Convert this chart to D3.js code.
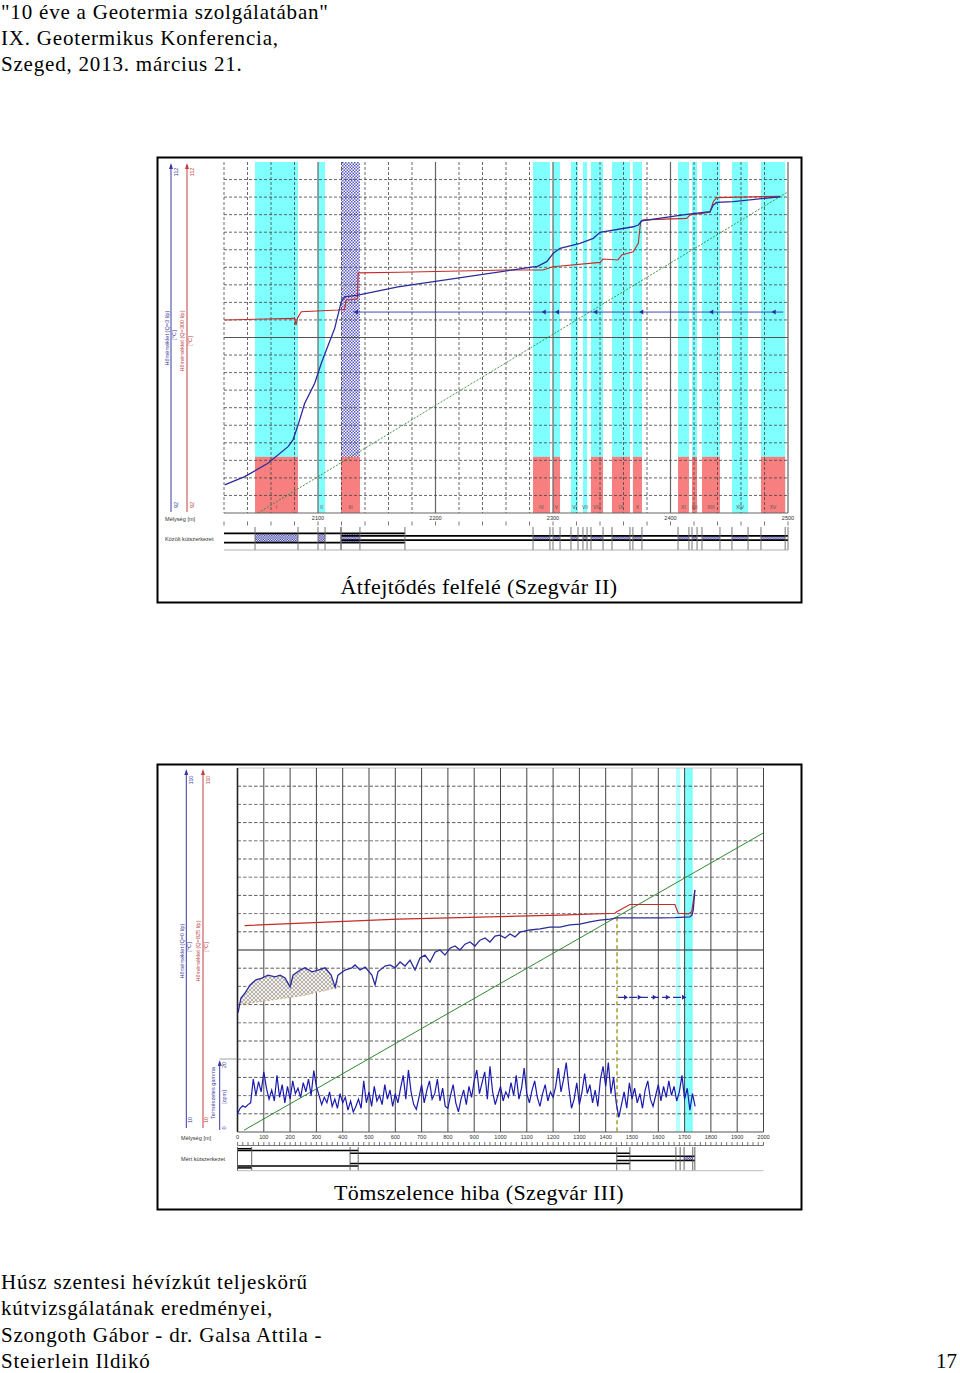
<!DOCTYPE html>
<html lang="hu">
<head>
<meta charset="utf-8">
<title>Szegvár kútvizsgálat</title>
<script src="https://d3js.org/d3.v7.min.js"></script>
<style>
  body { margin: 0; background: #fff; }
  text { font-family: "Liberation Sans", Arial, sans-serif; }
  .serif { font-family: "Liberation Serif", "Times New Roman", serif; fill: #000; }
  .tiny { font-size: 5.6px; fill: #333; }
</style>
</head>
<body>
<svg id="page" width="960" height="1373"></svg>
<script>

// ---------- PAGE TEXT ----------
const headLines = ['"10 éve a Geotermia szolgálatában"', 'IX. Geotermikus Konferencia,', 'Szeged, 2013. március 21.'];
const footLines = ['Húsz szentesi hévízkút teljeskörű', 'kútvizsgálatának eredményei,', 'Szongoth Gábor - dr. Galsa Attila -', 'Steierlein Ildikó'];
const pageNumber = '17';
const captions = ['Átfejtődés felfelé (Szegvár II)', 'Tömszelence hiba (Szegvár III)'];

// ---------- UPPER CHART: Szegvár II (depth m / temperature °C) ----------
const topDepthTicks = [2100, 2200, 2300, 2400, 2500];
const topTempLabels = ['92', '112'];
const topZoneNames = ['I','II','III','IV','V','VI','VII','VIII','IX','X','XI','XII','XIII','XIV','XV'];
const topZoneFrom = [2046.4, 2100, 2119.6, 2283, 2300, 2315.3, 2325.5, 2332.3, 2350.2, 2368, 2406.4, 2418.3, 2426.8, 2452.3, 2477];
const topZoneTo   = [2083, 2106, 2135.7, 2297.4, 2306, 2321.3, 2329, 2342.6, 2365.5, 2375.7, 2415.7, 2422.6, 2442.1, 2466, 2497.6];
const topZoneInflow = [1, 0, 1, 1, 1, 0, 0, 1, 1, 1, 1, 1, 1, 0, 1];
const topZoneClosed = 'III';

// Q = 3 l/p
const topQ3Depth = [2020.6, 2037.6, 2057.4, 2074.5, 2078.7, 2083.0, 2088.7, 2097.2, 2102.8, 2107.1, 2114.2, 2119.8, 2122.7, 2134.0, 2168.1, 2283, 2286.1, 2294.6, 2300.3, 2306.0, 2323.0, 2334.3, 2340.0, 2368.3, 2372.6, 2375.5, 2413.8, 2433.6, 2436.4, 2439.3, 2453.4, 2493.2];
const topQ3Temp  = [93.60, 94.07, 94.83, 95.78, 96.16, 97.01, 98.25, 99.39, 100.53, 101.29, 102.52, 104.04, 104.32, 104.42, 104.89, 106.02, 106.03, 106.32, 106.80, 107.08, 107.37, 107.65, 107.99, 108.31, 108.41, 108.64, 109.02, 109.17, 109.55, 109.70, 109.74, 110.02];
// Q = 300 l/p
const topQ300Depth = [2020.6, 2080.2, 2081.3, 2082.6, 2085.8, 2117.0, 2122.5, 2124, 2128, 2133.5, 2134.2, 2169.8, 2260.6, 2291.5, 2300, 2340, 2342.6, 2355.3, 2358.5, 2368.3, 2372.6, 2374.6, 2376.8, 2413.8, 2416.6, 2433.6, 2436.4, 2439.3, 2493.2];
const topQ300Temp  = [103.00, 103.09, 102.71, 103.11, 103.47, 103.57, 103.60, 104.15, 104.15, 104.20, 105.68, 105.72, 105.85, 105.85, 106.03, 106.28, 106.47, 106.42, 106.70, 106.89, 107.37, 108.60, 108.70, 108.79, 108.98, 109.13, 109.74, 109.97, 110.05];
// undisturbed gradient
const topGradDepth = [2049, 2500];
const topGradTemp = [92, 110.3];
// flow direction arrows (upward flow)
const topFlowDepths = [2130.6, 2290.4, 2301.7, 2334.3, 2373.4, 2433, 2486.1];
const topFlowRange = [2130, 2496];
// well structure: pipes [from, to, diameter inch]
const topPipeFrom = [2020, 2119.6];
const topPipeTo = [2174, 2500];
const topPipeDiam = [9.625, 4.5];

// ---------- LOWER CHART: Szegvár III ----------
const botDepthTicks = [0, 100, 200, 300, 400, 500, 600, 700, 800, 900, 1000, 1100, 1200, 1300, 1400, 1500, 1600, 1700, 1800, 1900, 2000];
const botTempLabels = ['10', '110'];
const botGammaLabels = ['0', '20'];
const botZoneFrom = [1667, 1698];
const botZoneTo = [1683, 1731];

// Q = 0 l/p
const botQ0Depth = [2, 13, 29, 48, 70, 93, 116, 143, 162, 181, 200, 211, 238, 257, 283, 306, 333, 356, 371, 382, 409, 435, 447, 466, 485, 511, 523, 534, 561, 580, 599, 618, 637, 656, 675, 694, 713, 732, 751, 770, 789, 808, 827, 846, 865, 884, 903, 922, 941, 960, 979, 998, 1017, 1036, 1055, 1074, 1112, 1150, 1188, 1226, 1264, 1302, 1340, 1378, 1416, 1443, 1492, 1606, 1663, 1720, 1728, 1733, 1739];
const botQ0Temp  = [42.7, 46.8, 48.2, 50.4, 51.8, 52.3, 53.1, 52.6, 53.1, 52.3, 49.8, 53.1, 54.5, 55.1, 54.0, 54.5, 55.1, 53.1, 49.8, 53.1, 54.5, 55.1, 55.9, 54.5, 55.3, 53.1, 50.4, 54.0, 55.6, 55.9, 55.1, 56.7, 55.6, 57.2, 54.5, 57.8, 58.6, 56.7, 59.4, 60.0, 58.6, 60.5, 61.1, 60.0, 61.6, 62.2, 61.1, 62.7, 63.3, 62.2, 63.8, 64.1, 63.3, 64.4, 63.6, 64.9, 65.5, 65.8, 66.3, 66.3, 66.9, 67.1, 67.7, 68.2, 68.5, 68.8, 68.8, 68.8, 68.9, 69.1, 69.6, 71.0, 76.5];
// washed-out section reference line (lower envelope)
const botBaseDepth = [10, 250, 400];
const botBaseTemp = [45, 47.5, 50];
// Q = 825 l/p
const botQ825Depth = [27, 610, 1226, 1435, 1442, 1492, 1663, 1676, 1714, 1727, 1733, 1739];
const botQ825Temp  = [66.7, 68.5, 69.6, 70.1, 70.5, 72.5, 72.5, 70.1, 69.9, 70.5, 73.3, 76.5];
// undisturbed gradient
const botGradDepth = [25, 1998];
const botGradTemp = [10.5, 92.1];
// packer (tömszelence) depth
const botPackerDepth = 1443;
// flow arrows (downward flow)
const botFlowDepths = [1485, 1537, 1594, 1644, 1705];
const botFlowRange = [1447, 1705];
// natural gamma, sampled every 10 m from 0 m
const botGammaStep = 10;
const botGamma = [
  5.0, 6.5, 7.2, 6.8, 7.5, 8.0,
  14.5, 10.0, 13.8, 11.0, 16.5, 12.0, 9.0, 11.5, 8.5, 15.5,
  9.5, 13.0, 8.0, 12.5, 9.0, 14.0, 10.5, 12.0, 9.5, 13.5, 11.0, 14.5, 10.0, 16.8, 12.5,
  10.0, 7.5, 9.5, 8.0, 11.0, 7.0, 9.0, 6.5, 10.5, 8.0, 9.5, 6.0, 8.5, 5.5, 7.0,
  9.0, 6.5, 14.0, 8.0, 11.0, 7.0, 12.5, 8.5, 10.0, 7.5, 13.0, 9.0, 11.5, 7.0, 10.5,
  8.0, 12.0, 15.5, 9.0, 17.0, 11.0, 7.5, 6.2, 9.5, 13.0, 8.0, 11.5, 14.0, 9.0, 10.5,
  14.5, 8.5, 12.0, 7.0, 6.5, 10.0, 13.0, 8.0, 5.5, 9.0, 11.5, 7.5, 12.5, 9.5, 14.0,
  17.0, 10.5, 13.5, 16.5, 9.0, 18.0, 11.0, 7.5, 10.0, 12.5, 8.5, 11.0, 9.5, 13.5, 10.0,
  15.5, 9.0, 12.0, 17.5, 10.5, 8.0, 11.5, 14.0, 9.5, 7.0, 10.5, 13.0, 8.5, 11.0, 9.5,
  12.5, 17.5, 11.0, 14.5, 19.0, 12.0, 6.5, 9.0, 13.5, 7.5, 11.0, 16.0, 10.5, 13.0, 8.0,
  11.5, 7.0, 14.5, 18.0, 12.5, 19.0, 10.5, 15.0, 8.0, 4.0, 7.5, 11.0, 6.5, 13.5, 9.0,
  12.0, 8.0, 10.5, 6.5, 11.5, 14.0, 9.0, 7.0, 10.0, 13.0, 8.5, 12.5, 9.5, 14.0, 10.0,
  12.5, 8.5, 11.0, 15.5, 9.0, 12.0, 6.0, 10.5, 7.0
];
// well structure
const botPipeFrom = [0, 0, 428, 1442];
const botPipeTo = [54, 459, 1492, 1739];
const botPipeDiam = [20, 16, 10.75, 4.5];


// ---------- SETUP ----------
const svg = d3.select('#page');
svg.append('rect').attr('width', 960).attr('height', 1373).attr('fill', '#fff');

const CYAN = '#80ffff', SALMON = '#f87f7f';
const BLUE = '#2b2b9c', RED = '#c42a2a', GREEN = '#2f8a2f';

const defs = svg.append('defs');
function checker(id, size, color) {
  const p = defs.append('pattern').attr('id', id).attr('patternUnits', 'userSpaceOnUse')
    .attr('width', size * 2).attr('height', size * 2);
  p.append('rect').attr('width', size * 2).attr('height', size * 2).attr('fill', '#fff');
  p.append('rect').attr('width', size).attr('height', size).attr('fill', color);
  p.append('rect').attr('x', size).attr('y', size).attr('width', size).attr('height', size).attr('fill', color);
}
checker('chk', 1.5, '#5a5ac4');
checker('scr', 1.2, '#2c2ca0');
const xh = defs.append('pattern').attr('id', 'xh').attr('patternUnits', 'userSpaceOnUse')
  .attr('width', 4).attr('height', 4);
xh.append('rect').attr('width', 4).attr('height', 4).attr('fill', '#f4efe8');
xh.append('path').attr('d', 'M0,0L4,4M4,0L0,4').attr('stroke', '#8a8a8a').attr('stroke-width', 0.6);

const pipeHalf = d3.scaleLinear().domain([0, 10]).range([0, 4.8]);

// page texts
const headY = [19, 45, 71], footY = [1289, 1315, 1342, 1368];
svg.append('g').selectAll('text').data(headLines).join('text')
  .attr('class', 'serif').attr('x', 1).attr('y', (d, i) => headY[i])
  .style('font-size', '21px').style('letter-spacing', '0.8px').text(d => d);
svg.append('g').selectAll('text').data(footLines).join('text')
  .attr('class', 'serif').attr('x', 1).attr('y', (d, i) => footY[i])
  .style('font-size', '21px').style('letter-spacing', '0.8px').text(d => d);
svg.append('text').attr('class', 'serif').attr('x', 957).attr('y', 1368)
  .attr('text-anchor', 'end').style('font-size', '21px').text(pageNumber);

// frames + captions
[[157, 157, 594], [157, 764, 1200]].forEach((f, i) => {
  svg.append('rect').attr('x', f[0] + 0.5).attr('y', f[1] + 0.5).attr('width', 644).attr('height', 445)
    .attr('fill', 'none').attr('stroke', '#000').attr('stroke-width', 2);
  svg.append('text').attr('class', 'serif').attr('x', 479).attr('y', f[2])
    .attr('text-anchor', 'middle').style('font-size', '22px').style('letter-spacing', '0.4px').text(captions[i]);
});

// helpers
function vLabel(g, x, y, txt, color, anchor) {
  g.append('text').attr('class', 'tiny')
    .attr('transform', `translate(${x},${y}) rotate(-90)`)
    .attr('text-anchor', anchor || 'middle').style('fill', color).text(txt);
}
function axisLine(g, x, y1, y2, color) {
  g.append('line').attr('x1', x).attr('x2', x).attr('y1', y1).attr('y2', y2)
    .attr('stroke', color).attr('stroke-width', 1);
  g.append('path').attr('d', `M${x},${y1 - 2}L${x - 2},${y1 + 4}L${x + 2},${y1 + 4}Z`).attr('fill', color);
}
function arrowHead(g, x, y, dir, color) {
  g.append('path').attr('d', `M${x},${y}L${x - 4 * dir},${y - 2.5}L${x - 4 * dir},${y + 2.5}Z`)
    .attr('fill', color);
}

// ================= UPPER CHART =================
const xTop = d3.scaleLinear().domain([2020, 2500]).range([224, 788]);
const yTop = d3.scaleLinear().domain([92, 112]).range([513, 162]);
const topZones = topZoneNames.map((n, i) => ({ name: n, from: topZoneFrom[i], to: topZoneTo[i], inflow: topZoneInflow[i] }));
const gT = svg.append('g');

// zones
gT.append('g').selectAll('rect').data(topZones).join('rect')
  .attr('x', d => xTop(d.from)).attr('width', d => xTop(d.to) - xTop(d.from))
  .attr('y', yTop(112)).attr('height', yTop(92) - yTop(112))
  .attr('fill', d => d.name === topZoneClosed ? 'url(#chk)' : CYAN);
gT.append('g').selectAll('rect').data(topZones.filter(d => d.inflow)).join('rect')
  .attr('x', d => xTop(d.from)).attr('width', d => xTop(d.to) - xTop(d.from))
  .attr('y', yTop(95.2)).attr('height', yTop(92) - yTop(95.2))
  .attr('fill', SALMON);

// grid
gT.append('g').selectAll('line').data(d3.range(2020, 2501, 20)).join('line')
  .attr('x1', d => xTop(d)).attr('x2', d => xTop(d)).attr('y1', yTop(112)).attr('y2', yTop(92))
  .attr('stroke', d => d % 100 === 0 ? '#666' : '#444').attr('stroke-width', d => d % 100 === 0 ? 1.2 : 0.8)
  .attr('stroke-dasharray', d => d % 100 === 0 ? null : '3,2');
gT.append('g').selectAll('line').data(d3.range(93, 112, 1)).join('line')
  .attr('x1', xTop(2020)).attr('x2', xTop(2500)).attr('y1', d => yTop(d)).attr('y2', d => yTop(d))
  .attr('stroke', d => d === 102 ? '#555' : '#444').attr('stroke-width', d => d === 102 ? 1.2 : 0.8)
  .attr('stroke-dasharray', d => d === 102 ? null : '3,2');
gT.append('line').attr('x1', xTop(2020)).attr('x2', xTop(2500)).attr('y1', yTop(92)).attr('y2', yTop(92))
  .attr('stroke', '#666').attr('stroke-width', 1.2);

// zone labels
gT.append('g').selectAll('text').data(topZones).join('text')
  .attr('class', 'tiny').attr('x', d => xTop((d.from + d.to) / 2)).attr('y', 509)
  .attr('text-anchor', 'middle').style('font-size', '5px').style('fill', '#555').text(d => d.name);

// gradient line
const topLine = d3.line().x(d => xTop(d[0])).y(d => yTop(d[1]));
gT.append('path').attr('d', topLine(d3.zip(topGradDepth, topGradTemp)))
  .attr('fill', 'none').attr('stroke', GREEN).attr('stroke-width', 0.9).attr('stroke-dasharray', '2,1.5');

// flow arrows
const topArrowT = 103.45;
gT.append('line').attr('x1', xTop(topFlowRange[0])).attr('x2', xTop(topFlowRange[1]))
  .attr('y1', yTop(topArrowT)).attr('y2', yTop(topArrowT)).attr('stroke', '#3434a8').attr('stroke-width', 0.9);
topFlowDepths.forEach(d => arrowHead(gT, xTop(d), yTop(topArrowT), -1, '#2a2a9a'));

// temperature curves
gT.append('path').attr('d', topLine(d3.zip(topQ300Depth, topQ300Temp)))
  .attr('fill', 'none').attr('stroke', RED).attr('stroke-width', 1.1);
gT.append('path').attr('d', topLine(d3.zip(topQ3Depth, topQ3Temp)))
  .attr('fill', 'none').attr('stroke', BLUE).attr('stroke-width', 1.3);

// left axes
axisLine(gT, 171, 165, 512, '#3a3aa0');
axisLine(gT, 187, 165, 512, '#c04040');
vLabel(gT, 178, 172, topTempLabels[1], '#3a3aa0');
vLabel(gT, 194, 172, topTempLabels[1], '#c04040');
vLabel(gT, 178, 505, topTempLabels[0], '#3a3aa0');
vLabel(gT, 194, 505, topTempLabels[0], '#c04040');
vLabel(gT, 169, 338, 'Hőmérséklet (Q=3 l/p)', '#3a3aa0');
vLabel(gT, 176, 335, '[°C]', '#3a3aa0');
vLabel(gT, 184, 341, 'Hőmérséklet (Q=300 l/p)', '#c04040');
vLabel(gT, 192, 341, '[°C]', '#c04040');

// depth axis
gT.append('text').attr('class', 'tiny').attr('x', 165).attr('y', 521).text('Mélység [m]');
gT.append('text').attr('class', 'tiny').attr('x', 165).attr('y', 541).text('Közölt kútszerkezet');
gT.append('g').selectAll('text').data(topDepthTicks).join('text')
  .attr('class', 'tiny').attr('x', d => xTop(d)).attr('y', 520).attr('text-anchor', 'middle').text(d => d);
gT.append('g').selectAll('line').data(d3.range(2020, 2501, 20)).join('line')
  .attr('x1', d => xTop(d)).attr('x2', d => xTop(d)).attr('y1', 521.5).attr('y2', 525.5)
  .attr('stroke', '#555').attr('stroke-width', 0.8);

// well structure
const topPipeY = 538;
const topPipes = topPipeFrom.map((f, i) => ({ from: f, to: topPipeTo[i], half: pipeHalf(topPipeDiam[i]) }));
topZones.forEach(z => {
  const m = (z.from + z.to) / 2;
  const half = d3.max(topPipes.filter(p => p.from <= m && p.to >= m), p => p.half);
  gT.append('rect').attr('x', xTop(z.from)).attr('width', xTop(z.to) - xTop(z.from))
    .attr('y', topPipeY - half).attr('height', half * 2).attr('fill', 'url(#scr)');
});
topPipes.forEach(p => {
  [-1, 1].forEach(s => gT.append('line')
    .attr('x1', xTop(p.from)).attr('x2', xTop(p.to)).attr('y1', topPipeY + s * p.half).attr('y2', topPipeY + s * p.half)
    .attr('stroke', '#000').attr('stroke-width', 1.6));
});
const topDividers = topZoneFrom.concat(topZoneTo, topPipeFrom.slice(1), topPipeTo);
gT.append('g').selectAll('line').data(topDividers).join('line')
  .attr('x1', d => xTop(d)).attr('x2', d => xTop(d)).attr('y1', 527).attr('y2', 550)
  .attr('stroke', '#666').attr('stroke-width', 0.9);
gT.append('line').attr('x1', xTop(2020)).attr('x2', xTop(2500)).attr('y1', 550).attr('y2', 550)
  .attr('stroke', '#999').attr('stroke-width', 0.8);

// ================= LOWER CHART =================
const xBot = d3.scaleLinear().domain([0, 2000]).range([237.5, 763.5]);
const yBot = d3.scaleLinear().domain([10, 110]).range([1132, 768]);
const yGam = d3.scaleLinear().domain([0, 20]).range([1132, 1059]);
const gB = svg.append('g');

// zones
gB.append('g').selectAll('rect').data(d3.zip(botZoneFrom, botZoneTo)).join('rect')
  .attr('x', d => xBot(d[0])).attr('width', d => xBot(d[1]) - xBot(d[0]))
  .attr('y', yBot(110)).attr('height', yBot(10) - yBot(110))
  .attr('fill', (d, i) => i === 0 ? '#b8ffff' : CYAN);

// grid
gB.append('g').selectAll('line').data(d3.range(15, 110, 5)).join('line')
  .attr('x1', xBot(0)).attr('x2', xBot(2000)).attr('y1', d => yBot(d)).attr('y2', d => yBot(d))
  .attr('stroke', (d, i) => d === 60 ? '#222' : (i % 2 ? '#555' : '#333'))
  .attr('stroke-width', d => d === 60 ? 1.2 : 0.8)
  .attr('stroke-dasharray', d => d === 60 ? null : '3.5,2');
gB.append('line').attr('x1', xBot(0)).attr('x2', xBot(2000)).attr('y1', yBot(110)).attr('y2', yBot(110))
  .attr('stroke', '#bbb').attr('stroke-width', 0.8);
gB.append('g').selectAll('line').data(d3.range(0, 2001, 100)).join('line')
  .attr('x1', d => xBot(d)).attr('x2', d => xBot(d)).attr('y1', yBot(110)).attr('y2', yBot(10))
  .attr('stroke', d => d === 0 ? '#222' : '#444').attr('stroke-width', d => d === 0 ? 1.6 : 1);
gB.append('line').attr('x1', xBot(0)).attr('x2', xBot(2000)).attr('y1', yBot(10)).attr('y2', yBot(10))
  .attr('stroke', '#555').attr('stroke-width', 1);

// washout hatch
const baseScale = d3.scaleLinear().domain(botBaseDepth).range(botBaseTemp).clamp(true);
const washed = d3.zip(botQ0Depth, botQ0Temp).filter(d => d[0] >= 10 && d[0] <= 400);
gB.append('path')
  .attr('d', d3.area().x(d => xBot(d[0])).y0(d => yBot(baseScale(d[0]))).y1(d => yBot(Math.max(d[1], baseScale(d[0]))))(washed))
  .attr('fill', 'url(#xh)');
const botLine = d3.line().x(d => xBot(d[0])).y(d => yBot(d[1]));
gB.append('path').attr('d', botLine(d3.zip(botBaseDepth, botBaseTemp)))
  .attr('fill', 'none').attr('stroke', '#c89a5a').attr('stroke-width', 0.8).attr('stroke-dasharray', '2,2');

// gradient line
gB.append('path').attr('d', botLine(d3.zip(botGradDepth, botGradTemp)))
  .attr('fill', 'none').attr('stroke', GREEN).attr('stroke-width', 1);

// packer line
gB.append('line').attr('x1', xBot(botPackerDepth)).attr('x2', xBot(botPackerDepth))
  .attr('y1', yBot(69)).attr('y2', yBot(10))
  .attr('stroke', '#a2a228').attr('stroke-width', 1.5).attr('stroke-dasharray', '4,3');

// flow arrows
const botArrowT = 47;
gB.append('line').attr('x1', xBot(botFlowRange[0])).attr('x2', xBot(botFlowRange[1]))
  .attr('y1', yBot(botArrowT)).attr('y2', yBot(botArrowT))
  .attr('stroke', '#2a2a9a').attr('stroke-width', 1.2).attr('stroke-dasharray', '8,3');
botFlowDepths.forEach(d => arrowHead(gB, xBot(d), yBot(botArrowT), 1, '#2a2a9a'));

// temperature curves
gB.append('path').attr('d', botLine(d3.zip(botQ825Depth, botQ825Temp)))
  .attr('fill', 'none').attr('stroke', RED).attr('stroke-width', 1.2);
gB.append('path').attr('d', botLine(d3.zip(botQ0Depth, botQ0Temp)))
  .attr('fill', 'none').attr('stroke', BLUE).attr('stroke-width', 1.3);

// gamma
gB.append('path')
  .attr('d', d3.line().x((d, i) => xBot(i * botGammaStep)).y(d => yGam(d))(botGamma))
  .attr('fill', 'none').attr('stroke', '#1a1ab0').attr('stroke-width', 1.2);

// left axes
axisLine(gB, 186.3, 771, 1128, '#3a3aa0');
axisLine(gB, 203, 771, 1128, '#c04040');
axisLine(gB, 219.7, 1062, 1130, '#3a3aa0');
gB.append('line').attr('x1', 219.7).attr('x2', xBot(0)).attr('y1', yGam(20)).attr('y2', yGam(20))
  .attr('stroke', '#888').attr('stroke-width', 0.8);
vLabel(gB, 193, 780, botTempLabels[1], '#3a3aa0');
vLabel(gB, 210, 780, botTempLabels[1], '#c04040');
vLabel(gB, 192, 1120, botTempLabels[0], '#3a3aa0');
vLabel(gB, 208, 1120, botTempLabels[0], '#c04040');
vLabel(gB, 226, 1065, botGammaLabels[1], '#3a3aa0');
vLabel(gB, 226, 1128, botGammaLabels[0], '#3a3aa0');
vLabel(gB, 184, 951, 'Hőmérséklet (Q=0 l/p)', '#3a3aa0');
vLabel(gB, 191, 947, '[°C]', '#3a3aa0');
vLabel(gB, 200, 951, 'Hőmérséklet (Q=825 l/p)', '#c04040');
vLabel(gB, 208, 947, '[°C]', '#c04040');
vLabel(gB, 215, 1093, 'Természetes gamma', '#3a3aa0');
vLabel(gB, 226, 1097, '[cpm]', '#3a3aa0');

// depth axis
gB.append('text').attr('class', 'tiny').attr('x', 181).attr('y', 1140).text('Mélység [m]');
gB.append('text').attr('class', 'tiny').attr('x', 181).attr('y', 1161).text('Mért kútszerkezet');
gB.append('g').selectAll('text').data(botDepthTicks).join('text')
  .attr('class', 'tiny').attr('x', d => xBot(d)).attr('y', 1139).attr('text-anchor', 'middle').text(d => d);
gB.append('line').attr('x1', xBot(0)).attr('x2', xBot(2000)).attr('y1', 1145.5).attr('y2', 1145.5)
  .attr('stroke', '#555').attr('stroke-width', 0.8);
gB.append('g').selectAll('line').data(d3.range(0, 2001, 20)).join('line')
  .attr('x1', d => xBot(d)).attr('x2', d => xBot(d)).attr('y1', 1142).attr('y2', 1145.5)
  .attr('stroke', '#555').attr('stroke-width', 0.8);

// well structure
const botPipeY = 1158.3;
const botPipes = botPipeFrom.map((f, i) => ({ from: f, to: botPipeTo[i], half: pipeHalf(botPipeDiam[i]) }));
botZoneFrom.forEach((f, i) => {
  if (i === 0) return;
  const m = (f + botZoneTo[i]) / 2;
  const half = d3.max(botPipes.filter(p => p.from <= m && p.to >= m), p => p.half);
  gB.append('rect').attr('x', xBot(f)).attr('width', xBot(botZoneTo[i]) - xBot(f))
    .attr('y', botPipeY - half).attr('height', half * 2).attr('fill', 'url(#scr)');
});
botPipes.forEach(p => {
  [-1, 1].forEach(s => gB.append('line')
    .attr('x1', xBot(p.from)).attr('x2', xBot(p.to)).attr('y1', botPipeY + s * p.half).attr('y2', botPipeY + s * p.half)
    .attr('stroke', '#000').attr('stroke-width', 1.5));
});
const botDividers = botPipeFrom.concat(botPipeTo, botZoneFrom, botZoneTo);
gB.append('g').selectAll('line').data(botDividers).join('line')
  .attr('x1', d => xBot(d)).attr('x2', d => xBot(d)).attr('y1', 1147).attr('y2', 1170.5)
  .attr('stroke', '#555').attr('stroke-width', 0.9);
gB.append('line').attr('x1', xBot(0)).attr('x2', xBot(2000)).attr('y1', 1170.7).attr('y2', 1170.7)
  .attr('stroke', '#aaa').attr('stroke-width', 0.8);

</script>
</body>
</html>
